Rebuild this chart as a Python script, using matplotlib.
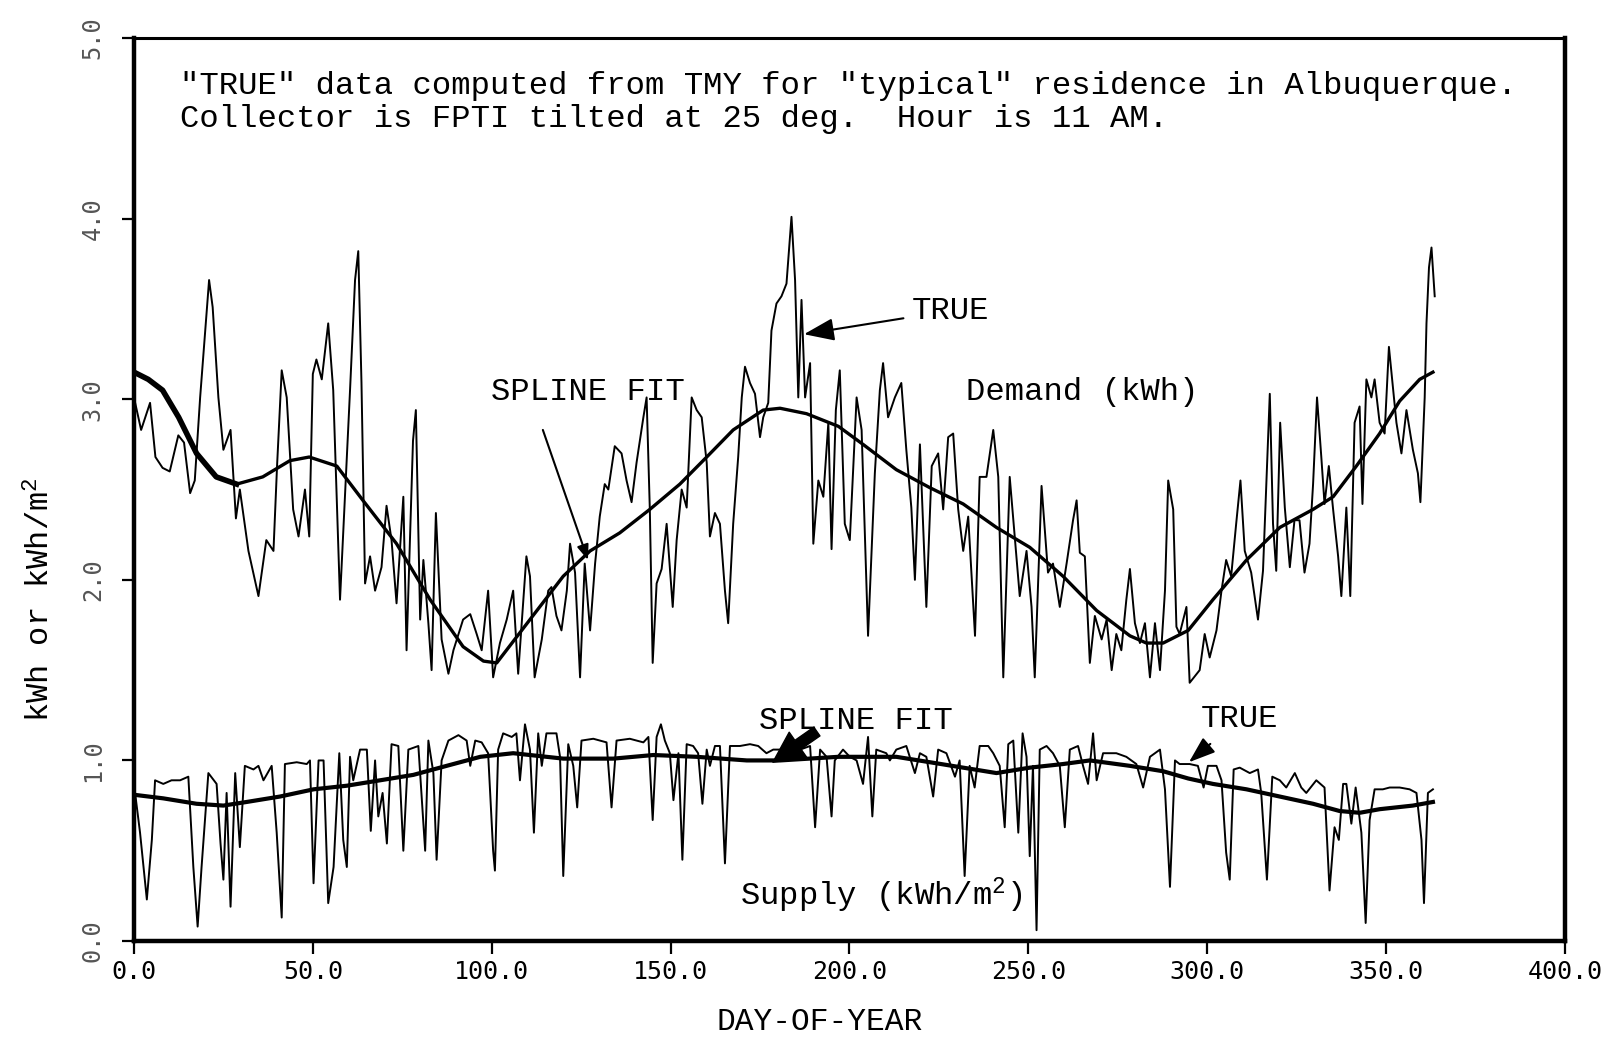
import matplotlib
matplotlib.use("Agg")
import matplotlib.pyplot as plt

# -----------------------------
# DATA
# -----------------------------
# demand, "TRUE" daily values (day, kWh)
demand_true = [
    (0, 3.01), (2, 2.83), (4.5, 2.98), (6, 2.68), (8, 2.62), (10, 2.60), (12.4, 2.80), (14, 2.76),
    (15.7, 2.48), (17, 2.55), (18.5, 3.01), (21, 3.66), (22, 3.51), (23.6, 3.01), (25, 2.72),
    (27, 2.83), (28.5, 2.34), (29.6, 2.50), (32, 2.16), (34.8, 1.91), (37, 2.22), (39, 2.16),
    (40, 2.63), (41.3, 3.16), (42.7, 3.01), (44.5, 2.39), (46, 2.24), (47.8, 2.50), (49, 2.24),
    (50, 3.14), (51, 3.22), (52.5, 3.11), (54.3, 3.42), (55.7, 3.05), (57.6, 1.89), (60.4, 3.05),
    (61.8, 3.66), (62.7, 3.82), (63.6, 3.09), (64.6, 1.98), (66, 2.13), (67.4, 1.94), (69.2, 2.07),
    (70.6, 2.41), (72, 2.22), (73.4, 1.87), (75.3, 2.46), (76.2, 1.61), (78, 2.77), (78.8, 2.94),
    (80, 1.78), (80.9, 2.11), (82.3, 1.76), (83.2, 1.50), (84.4, 2.37), (86, 1.67), (87.9, 1.48),
    (89.3, 1.61), (92, 1.78), (94, 1.81), (95.8, 1.70),
    (97.2, 1.61), (99, 1.94), (100.4, 1.46), (102.3, 1.65), (104.2, 1.78), (106, 1.94),
    (107.4, 1.48), (109.7, 2.13), (110.7, 2.02), (112, 1.46), (114, 1.67), (115.8, 1.94),
    (116.7, 1.96), (118.1, 1.80), (119.5, 1.72), (121, 1.94), (121.9, 2.20), (123.3, 2.04),
    (124.7, 1.46), (126, 2.09), (127.5, 1.72), (128.9, 2.09), (130.2, 2.35), (131.6, 2.53),
    (132.6, 2.50), (134.4, 2.74), (136.3, 2.70), (137.7, 2.55), (139.1, 2.43), (140.5, 2.65),
    (142.4, 2.90), (143.3, 3.01), (144.2, 2.39), (145, 1.54), (146.1, 1.98), (147.5, 2.06),
    (148.9, 2.31), (150.6, 1.85), (151.7, 2.22), (153.1, 2.50), (154.5, 2.40), (155.9, 3.01),
    (157.3, 2.94), (158.7, 2.90), (160.1, 2.65), (161, 2.24), (162.4, 2.37), (163.8, 2.31),
    (165.2, 1.94), (166.1, 1.76), (167.5, 2.31), (168.9, 2.68), (169.9, 3.01), (170.8, 3.18),
    (172.2, 3.09), (173.6, 3.03), (175, 2.79), (175.9, 2.90), (177.3, 2.98), (178.2, 3.38),
    (179.6, 3.53), (181, 3.57), (182.4, 3.64), (183.8, 4.01), (184.8, 3.66), (185.7, 3.01),
    (186.6, 3.55), (187.6, 3.01), (189, 3.20), (189.9, 2.20), (191.3, 2.55), (192.7, 2.46),
    (194.1, 2.87), (195, 2.17), (196.2, 2.94), (197.3, 3.16),
    (198.7, 2.31), (200.1, 2.22), (202, 3.01), (203.4, 2.83), (205.2, 1.69), (207.1, 2.59),
    (208.5, 3.05), (209.4, 3.20), (210.8, 2.90), (212.7, 3.01), (214.5, 3.09), (215.9, 2.72),
    (217.3, 2.40), (218.3, 2.00), (219.7, 2.75), (221.5, 1.85), (223, 2.63), (224.8, 2.70),
    (226.2, 2.39), (227.6, 2.79), (229, 2.81), (230.4, 2.39), (231.8, 2.16), (233.2, 2.35),
    (235.1, 1.69), (236.4, 2.57), (238.3, 2.57), (240.2, 2.83), (241.6, 2.57), (243, 1.46),
    (244.8, 2.57), (246.2, 2.24), (247.6, 1.91), (249.5, 2.16), (250.9, 1.85), (251.8, 1.46),
    (253.7, 2.52), (255.5, 2.04), (256.9, 2.09), (258.8, 1.85), (260.7, 2.09), (262.5, 2.33),
    (263.5, 2.44), (264.4, 2.15), (265.8, 2.13), (267.2, 1.54), (268.6, 1.80), (270.5, 1.67),
    (271.9, 1.78), (273.3, 1.50), (274.6, 1.70), (276, 1.61), (277.4, 1.89), (278.4, 2.06),
    (279.8, 1.76), (281.2, 1.65), (282.6, 1.76), (284, 1.46), (285.4, 1.76), (286.8, 1.50),
    (288.2, 1.94), (289.1, 2.55), (290.5, 2.39), (291.4, 1.74),
    (292.3, 1.70), (294.2, 1.85), (295.1, 1.43), (297.9, 1.50), (299.3, 1.70), (300.7, 1.57),
    (302.6, 1.72), (304, 1.94), (305.3, 2.11), (306.7, 2.02), (308.1, 2.31), (309.3, 2.55),
    (310.5, 2.16), (312.3, 2.04), (314.2, 1.78), (315.6, 2.05), (316.7, 2.61), (317.5, 3.03),
    (318.4, 2.31), (319.3, 2.05), (320.4, 2.87), (321.7, 2.40), (323.1, 2.07), (324.4, 2.33),
    (325.8, 2.33), (327.2, 2.04), (328.6, 2.20), (329.6, 2.53), (330.7, 3.01), (331.9, 2.68),
    (332.8, 2.42), (334, 2.63), (335.2, 2.39), (336.6, 2.13), (337.5, 1.91), (338.9, 2.40),
    (340, 1.91), (341.2, 2.87), (342.6, 2.96), (343.4, 2.42), (344.5, 3.11), (345.9, 3.01),
    (346.8, 3.11), (348.2, 2.87), (349.6, 2.81), (350.8, 3.29), (352, 3.05), (352.9, 2.87),
    (354.3, 2.70), (355.7, 2.94), (357.5, 2.72), (358.9, 2.59), (359.6, 2.43), (360.8, 3.01),
    (361.3, 3.42), (362, 3.73), (362.7, 3.84), (363.6, 3.57),
]

# demand spline fit (day, kWh)
demand_fit = [
    (0, 3.15), (4, 3.11), (8, 3.05), (12.5, 2.90), (17.5, 2.70), (23, 2.57), (28.7, 2.53),
    (36, 2.57), (43.6, 2.66), (49, 2.68), (56.7, 2.63), (64, 2.44), (73.4, 2.20), (82.8, 1.89),
    (92, 1.63), (97.7, 1.55), (101.4, 1.54), (110.7, 1.78), (120, 2.02), (127.5, 2.16),
    (135.8, 2.26), (144.2, 2.39), (152.6, 2.53), (160.1, 2.68), (167.5, 2.83), (175.9, 2.94),
    (180.6, 2.95), (188, 2.92), (196.9, 2.85), (203.8, 2.75), (213.1, 2.61), (222.5, 2.51),
    (231.8, 2.42), (241.1, 2.29), (250.4, 2.18), (259.7, 2.02), (269.1, 1.83), (278.4, 1.69),
    (283, 1.65), (287.7, 1.65), (294.7, 1.72), (301.6, 1.89), (311, 2.11), (320.3, 2.29),
    (329.6, 2.39), (335.2, 2.46), (341.7, 2.63), (348.2, 2.81), (353.8, 2.99), (359.4, 3.11),
    (363.1, 3.15),
]

# supply, "TRUE" daily values (day, kWh/m2)
supply_true = [
    (0, 0.87), (1.7, 0.60), (3.6, 0.23), (5, 0.56), (5.9, 0.89), (8.2, 0.87), (10.5, 0.89),
    (12.9, 0.89), (15.2, 0.91), (16.6, 0.41), (17.8, 0.08), (18.9, 0.41), (20.8, 0.93),
    (23.1, 0.87), (24.2, 0.54), (25, 0.34), (25.9, 0.82), (27, 0.19), (28.3, 0.93), (29.6, 0.52),
    (31, 0.97), (33.4, 0.95), (34.8, 0.97), (36.2, 0.89), (38.5, 0.97), (39.9, 0.60), (41.3, 0.13),
    (42.2, 0.98), (45.5, 0.99), (48.3, 0.98), (49.2, 1.00), (50.2, 0.32), (51.6, 1.00), (53, 1.00),
    (54.3, 0.21), (55.8, 0.41), (57.4, 1.04), (58.5, 0.56), (59.5, 0.41), (60.4, 1.02),
    (61.3, 0.89), (63.2, 1.06), (65.1, 1.06), (66.2, 0.61), (67.4, 1.00), (68.3, 0.69),
    (69.5, 0.82), (70.7, 0.54), (72, 1.09), (73.9, 1.08), (75.3, 0.50), (76.7, 1.06), (79.5, 1.08),
    (81.4, 0.50), (82.3, 1.11), (83.7, 0.93), (84.6, 0.45), (86, 1.00), (87.9, 1.11), (90.7, 1.14),
    (93, 1.11), (94, 0.97), (95.4, 1.11),
    (97.2, 1.10), (99, 1.04), (100.4, 0.50), (100.9, 0.39), (101.8, 1.06), (103.2, 1.15),
    (105.6, 1.13), (106.9, 1.15), (107.9, 0.89), (109.3, 1.20), (110.7, 1.06), (111.8, 0.60),
    (113, 1.15), (114, 0.97), (115.3, 1.15), (118.1, 1.15), (119.1, 1.02), (120, 0.36),
    (121.4, 1.09), (122.8, 0.97), (123.9, 0.74), (125.1, 1.11), (128.4, 1.12), (132.1, 1.10),
    (133.5, 0.74), (134.9, 1.11), (138.6, 1.12), (142.4, 1.10), (143.8, 1.13), (145, 0.67),
    (146.1, 1.13), (147.3, 1.20), (148.4, 1.11), (149.8, 1.04), (150.8, 0.78), (152.2, 1.04),
    (153.3, 0.45), (154.5, 1.09), (156.3, 1.08), (157.7, 1.04), (158.9, 0.76), (160.1, 1.06),
    (161, 0.97), (162.4, 1.08), (163.8, 1.08), (165.2, 0.43), (166.6, 1.08), (169.4, 1.08),
    (172.2, 1.09), (174.5, 1.08), (176.8, 1.04), (178.7, 1.06), (182.4, 1.06), (186.2, 1.06),
    (189, 1.08), (190.4, 0.63), (191.8, 1.06), (193.6, 1.02),
    (195, 0.69), (195.9, 1.00), (198.2, 1.06), (200.1, 1.02), (202, 1.00), (203.8, 0.87),
    (205.2, 1.13), (206.4, 0.69), (207.5, 1.06), (210.3, 1.04), (211.3, 1.00), (213.1, 1.06),
    (215.9, 1.08), (218.3, 0.93), (219.7, 1.04), (221.5, 1.02), (223.4, 0.80), (224.8, 1.06),
    (227.1, 1.04), (229.5, 0.91), (230.8, 1.00), (232.2, 0.36), (233.6, 0.97), (235, 0.85),
    (236.4, 1.08), (238.8, 1.08), (240.2, 1.04), (242, 0.97), (243.4, 0.63), (244.4, 1.09),
    (245.8, 1.11), (247.2, 0.60), (248.4, 1.15), (249.5, 1.02), (250.4, 0.47), (251.3, 0.97),
    (252.3, 0.06), (253.2, 1.06), (255.1, 1.08), (256.9, 1.04), (258.8, 0.97), (260.2, 0.63),
    (261.6, 1.06), (263.9, 1.08), (265.3, 0.97), (266.7, 0.87), (268.1, 1.15), (269.1, 0.89),
    (270.9, 1.04), (274.6, 1.04), (277.4, 1.02), (280.2, 0.98), (282.1, 0.85), (284, 1.02),
    (286.8, 1.06), (288.2, 0.84), (289.6, 0.30), (291, 1.00),
    (292.3, 0.98), (295.1, 0.98), (297.4, 0.97), (299, 0.85), (300.2, 0.97), (302.6, 0.97),
    (304, 0.89), (305.3, 0.49), (306.3, 0.34), (307.4, 0.95), (309.1, 0.96), (311.9, 0.93),
    (314.2, 0.95), (315.1, 0.82), (316.7, 0.34), (318.2, 0.91), (320.3, 0.89), (322.1, 0.85),
    (324.5, 0.93), (326.3, 0.85), (327.7, 0.82), (330.5, 0.89), (332.8, 0.85), (334.2, 0.28),
    (335.6, 0.63), (336.8, 0.56), (338, 0.87), (338.9, 0.87), (340.3, 0.65), (341.5, 0.85),
    (343.1, 0.60), (344.3, 0.10), (345.4, 0.67), (346.8, 0.84), (349.1, 0.84), (351, 0.85),
    (353.8, 0.85), (356.6, 0.84), (358.5, 0.82), (359.9, 0.56), (360.6, 0.21), (361.7, 0.82),
    (363.1, 0.84),
]

# supply spline fit (day, kWh/m2)
supply_fit = [
    (0, 0.81), (8.2, 0.79), (17.5, 0.76), (25, 0.75), (31.5, 0.77), (40.8, 0.80), (50.2, 0.84),
    (59.5, 0.86), (68.8, 0.89), (78.1, 0.92), (87.4, 0.97), (96.8, 1.02), (106, 1.04),
    (120, 1.01), (134, 1.01), (145.2, 1.03), (157.3, 1.02), (171.3, 1.00), (180.6, 1.00),
    (196.9, 1.02), (213.1, 1.02), (222.5, 0.99), (231.8, 0.96), (241.1, 0.93), (250.4, 0.96),
    (259.7, 0.98), (267.2, 1.00), (278.4, 0.97), (287.7, 0.94), (294.7, 0.90), (301.6, 0.87),
    (311, 0.84), (320.3, 0.80), (329.6, 0.76), (337, 0.72), (342.6, 0.71), (348.2, 0.73),
    (357.5, 0.75), (363.1, 0.77),
]

x_ticks = [0, 50, 100, 150, 200, 250, 300, 350, 400]
y_ticks = [0, 1, 2, 3, 4, 5]

# -----------------------------
# STYLE
# -----------------------------
TYPE_FONT = "Liberation Mono"
plt.rcParams["mathtext.fontset"] = "custom"
plt.rcParams["mathtext.rm"] = TYPE_FONT
plt.rcParams["mathtext.it"] = TYPE_FONT
plt.rcParams["mathtext.bf"] = TYPE_FONT

fig = plt.figure(figsize=(16.12, 10.42), dpi=100)
ax = fig.add_axes([0.0831, 0.0969, 0.8877, 0.8666])

# -------- Lines --------
d_day, d_val = zip(*demand_true)
ax.plot(d_day, d_val, color="black", linewidth=1.4)

f_day, f_val = zip(*demand_fit)
ax.plot(f_day, f_val, color="black", linewidth=2.4)
ax.plot(f_day[:7], f_val[:7], color="black", linewidth=4.0)  # overdrawn start

s_day, s_val = zip(*supply_true)
ax.plot(s_day, s_val, color="black", linewidth=1.4)

sf_day, sf_val = zip(*supply_fit)
ax.plot(sf_day, sf_val, color="black", linewidth=3.0)

# -------- Axes --------
ax.set_xlim(0, 400)
ax.set_ylim(0, 5)
ax.set_xticks(x_ticks)
ax.set_xticklabels([f"{t:.1f}" for t in x_ticks])
ax.set_yticks(y_ticks)
ax.set_yticklabels([f"{t:.1f}" for t in y_ticks])

for side in ["left", "bottom", "right"]:
    ax.spines[side].set_linewidth(3.2)
ax.spines["top"].set_linewidth(2.2)

ax.tick_params(axis="x", direction="out", length=9, width=1.6, pad=5,
               labelsize=18)
ax.tick_params(axis="y", direction="out", length=9, width=1.6, pad=12,
               labelsize=17, labelrotation=90, labelcolor="#555555")
for lab in ax.get_xticklabels():
    lab.set_family("DejaVu Sans Mono")
for lab in ax.get_yticklabels():
    lab.set_family("DejaVu Sans Mono")
    lab.set_va("center")

# -------- Texts --------
txt = dict(family=TYPE_FONT, fontsize=23.2, color="black")
ax.text(0.032, 0.947, '"TRUE" data computed from TMY for "typical" residence in Albuquerque.',
        transform=ax.transAxes, ha="left", va="center", **txt)
ax.text(0.032, 0.910, 'Collector is FPTI tilted at 25 deg.  Hour is 11 AM.',
        transform=ax.transAxes, ha="left", va="center", **txt)

ax.text(232.5, 3.04, "Demand (kWh)", ha="left", va="center", **txt)
ax.text(169.4, 0.25, "Supply (kWh/m$^2$)", ha="left", va="center", **txt)

ax.annotate("TRUE", xy=(187.3, 3.36), xytext=(217.4, 3.49), ha="left", va="center",
            arrowprops=dict(arrowstyle="-|>,head_length=0.8,head_width=0.3",
                            color="black", lw=1.5, shrinkA=4, shrinkB=0), **txt)

ax.text(99.8, 3.04, "SPLINE FIT", ha="left", va="center", **txt)
ax.annotate("", xy=(126.9, 2.11), xytext=(114.3, 2.83),
            arrowprops=dict(arrowstyle="-|>,head_length=0.9,head_width=0.35",
                            color="black", lw=1.5, shrinkA=0, shrinkB=0))

ax.text(174.7, 1.22, "SPLINE FIT", ha="left", va="center", **txt)
ax.annotate("", xy=(178.6, 0.99), xytext=(190.9, 1.16),
            arrowprops=dict(arrowstyle="simple,head_length=1.0,head_width=1.0,tail_width=0.35",
                            mutation_scale=22, color="black", lw=1.0,
                            shrinkA=0, shrinkB=0))

ax.annotate("TRUE", xy=(294.9, 0.99), xytext=(298.2, 1.23), ha="left", va="center",
            arrowprops=dict(arrowstyle="-|>,head_length=0.7,head_width=0.25",
                            color="black", lw=1.5, shrinkA=8, shrinkB=0), **txt)

fig.text(797 / 1568, 1 - 995 / 1014, "DAY-OF-YEAR", ha="center", va="center",
         family=TYPE_FONT, fontsize=22.5)
fig.text(41 / 1612, 1 - 600 / 1042, "kWh or kWh/m$^2$", ha="center", va="center",
         rotation=90, family=TYPE_FONT, fontsize=23)

fig.savefig("out.png", dpi=100)
